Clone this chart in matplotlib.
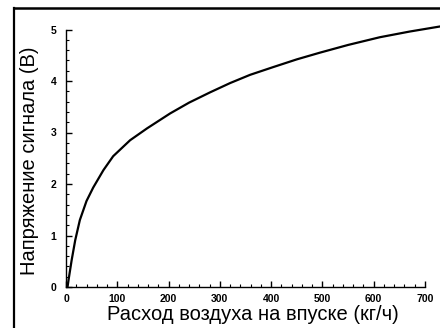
import matplotlib
matplotlib.use("Agg")
import matplotlib.pyplot as plt
from matplotlib.lines import Line2D
from matplotlib.ticker import MultipleLocator

flow = [3, 5, 11, 18, 27, 40, 53, 73, 92, 125, 158, 203, 240, 281, 320, 359, 404, 450, 495, 550, 612, 670, 730]
voltage = [0, 0.14, 0.52, 0.91, 1.3, 1.67, 1.93, 2.27, 2.54, 2.85, 3.08, 3.37, 3.58, 3.78, 3.96, 4.12, 4.27, 4.42, 4.55, 4.7, 4.85, 4.96, 5.06]
x_ticks = [0, 100, 200, 300, 400, 500, 600, 700]
y_ticks = [0, 1, 2, 3, 4, 5]
x_label = "Расход воздуха на впуске (кг/ч)"
y_label = "Напряжение сигнала (В)"

plt.rcParams['font.family'] = ['Liberation Sans', 'DejaVu Sans']

fig = plt.figure(figsize=(4.4, 3.28), dpi=100)
ax = fig.add_axes([66/440, 1 - 287/328, (425 - 66)/440, (287 - 29.5)/328])

ax.plot(flow, voltage, color='black', lw=1.6, clip_on=False, solid_capstyle='round',
        solid_joinstyle='round')
ax.set_xlim(0, 700)
ax.set_ylim(0, 5)
ax.set_xticks(x_ticks)
ax.set_yticks(y_ticks)
ax.xaxis.set_minor_locator(MultipleLocator(20))
ax.yaxis.set_minor_locator(MultipleLocator(0.2))
for s in ['top', 'right']:
    ax.spines[s].set_visible(False)
for s in ['left', 'bottom']:
    ax.spines[s].set_linewidth(1.0)
ax.tick_params(which='major', direction='in', length=4, width=1, labelsize=7.5)
ax.tick_params(axis='x', which='major', pad=5)
ax.tick_params(axis='y', which='major', pad=7)
ax.tick_params(which='minor', direction='in', length=2.5, width=0.8)
for lab in ax.get_xticklabels() + ax.get_yticklabels():
    lab.set_fontweight('bold')

fig.text(253/440, 1 - 314/328, x_label, ha='center', va='center', fontsize=14.5)
fig.text(30/440, 1 - 161/328, y_label, ha='center', va='center', fontsize=14.5, rotation=90)

# partial frame border
fig.add_artist(Line2D([14/440, 14/440], [0, 1 - 8/328], transform=fig.transFigure, color='black', lw=1.6))
fig.add_artist(Line2D([14/440, 1], [1 - 8/328, 1 - 8/328], transform=fig.transFigure, color='black', lw=1.8))

fig.savefig("out.png", dpi=100)
